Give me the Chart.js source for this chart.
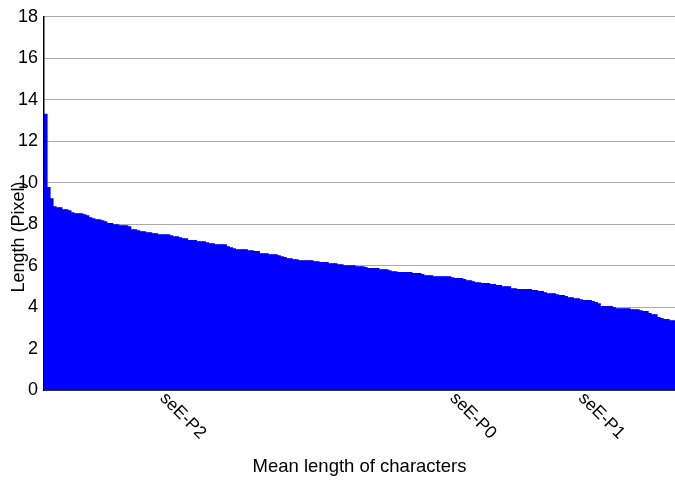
<!DOCTYPE html>
<html>
<head>
<meta charset="utf-8">
<script src="https://cdn.jsdelivr.net/npm/chart.js@4/dist/chart.umd.min.js"></script>
<style>
  html, body { margin: 0; padding: 0; background: #fff; }
  #wrap { width: 675px; height: 480px; position: relative; }
</style>
</head>
<body>
<div id="wrap"><canvas id="c"></canvas></div>
<script>
// ---- data ----
const lengths = [
  13.3, 9.76, 9.22, 8.83, 8.79, 8.79, 8.69, 8.69, 8.64, 8.55,
  8.50, 8.50, 8.50, 8.45, 8.40, 8.30, 8.26, 8.21, 8.21, 8.16,
  8.11, 8.02, 8.02, 7.97, 7.97, 7.92, 7.92, 7.92, 7.87, 7.73,
  7.73, 7.68, 7.63, 7.63, 7.58, 7.58, 7.53, 7.53, 7.48, 7.48,
  7.48, 7.48, 7.44, 7.39, 7.39, 7.34, 7.29, 7.29, 7.20, 7.20,
  7.20, 7.15, 7.15, 7.15, 7.10, 7.05, 7.05, 7.00, 7.00, 7.00,
  7.00, 6.91, 6.86, 6.81, 6.76, 6.76, 6.76, 6.76, 6.71, 6.71,
  6.67, 6.67, 6.57, 6.57, 6.57, 6.52, 6.52, 6.52, 6.47, 6.42,
  6.38, 6.33, 6.33, 6.28, 6.28, 6.23, 6.23, 6.23, 6.23, 6.23,
  6.18, 6.18, 6.14, 6.14, 6.14, 6.09, 6.09, 6.09, 6.04, 6.04,
  5.99, 5.99, 5.99, 5.99, 5.94, 5.94, 5.94, 5.90, 5.85, 5.85,
  5.85, 5.85, 5.80, 5.80, 5.80, 5.75, 5.70, 5.70, 5.66, 5.66,
  5.66, 5.66, 5.66, 5.61, 5.61, 5.61, 5.56, 5.51, 5.51, 5.51,
  5.46, 5.46, 5.46, 5.46, 5.46, 5.46, 5.41, 5.37, 5.37, 5.37,
  5.32, 5.27, 5.27, 5.22, 5.17, 5.17, 5.13, 5.13, 5.13, 5.08,
  5.08, 5.03, 5.03, 4.98, 4.98, 4.98, 4.88, 4.88, 4.84, 4.84,
  4.84, 4.84, 4.84, 4.79, 4.79, 4.74, 4.74, 4.69, 4.64, 4.64,
  4.64, 4.59, 4.55, 4.55, 4.50, 4.45, 4.45, 4.40, 4.40, 4.35,
  4.31, 4.31, 4.31, 4.26, 4.21, 4.16, 4.02, 4.02, 4.02, 4.02,
  3.97, 3.92, 3.92, 3.92, 3.92, 3.92, 3.87, 3.87, 3.87, 3.82,
  3.78, 3.78, 3.68, 3.63, 3.63, 3.49, 3.44, 3.39, 3.39, 3.34,
  3.34
];
const tickIndices = [38, 135, 178];
const tickLabels = ['seE-P2', 'seE-P0', 'seE-P1'];
const yTicks = [0, 2, 4, 6, 8, 10, 12, 14, 16, 18];
const xTitle = 'Mean length of characters';
const yTitle = 'Length (Pixel)';

// categories: one per bar, named where the reference shows a tick label
const categories = lengths.map((v, i) => {
  const k = tickIndices.indexOf(i);
  return k >= 0 ? tickLabels[k] : 'c' + (i + 1);
});

const FONT = '"Liberation Sans", Arial, Helvetica, sans-serif';

const textPlugin = {
  id: 'textPlugin',
  afterDraw(chart) {
    const ctx = chart.ctx;
    const xs = chart.scales.x;
    const area = chart.chartArea;
    ctx.save();
    ctx.fillStyle = '#000';
    // rotated category labels (reading down-right)
    ctx.font = '17.5px ' + FONT;
    tickIndices.forEach((idx, k) => {
      const px = xs.getPixelForValue(idx);
      ctx.save();
      ctx.translate(px, area.bottom + 9);
      ctx.rotate(Math.PI / 4);
      ctx.textAlign = 'left';
      ctx.textBaseline = 'alphabetic';
      ctx.fillText(tickLabels[k], 0, 0);
      ctx.restore();
    });
    // x title
    ctx.font = '18.5px ' + FONT;
    ctx.textAlign = 'center';
    ctx.textBaseline = 'middle';
    ctx.fillText(xTitle, (area.left + area.right) / 2, 467);
    // y title
    ctx.font = '18px ' + FONT;
    ctx.save();
    ctx.translate(19, 237);
    ctx.rotate(-Math.PI / 2);
    ctx.textAlign = 'center';
    ctx.textBaseline = 'middle';
    ctx.fillText(yTitle, 0, 0);
    ctx.restore();
    ctx.restore();
  }
};

new Chart(document.getElementById('c'), {
  type: 'bar',
  data: {
    labels: categories,
    datasets: [{
      data: lengths,
      backgroundColor: '#0000FF',
      borderWidth: 0,
      inflateAmount: 0.6,
      barPercentage: 1.0,
      categoryPercentage: 1.0
    }]
  },
  options: {
    responsive: true,
    maintainAspectRatio: false,
    animation: false,
    devicePixelRatio: 1,
    layout: { padding: { top: 16, right: 0, left: 0, bottom: 0 } },
    plugins: { legend: { display: false }, tooltip: { enabled: false } },
    scales: {
      x: {
        ticks: { display: false },
        grid: { display: false, drawTicks: false },
        border: { display: true, color: '#333', width: 1 },
        afterFit(scale) { scale.height = 90; }
      },
      y: {
        min: 0,
        max: 18,
        afterBuildTicks(scale) { scale.ticks = yTicks.map(v => ({ value: v })); },
        ticks: {
          color: '#000',
          font: { family: FONT, size: 18 },
          padding: 6
        },
        grid: {
          color: '#555',
          lineWidth: 1,
          drawTicks: false,
          tickLength: 0
        },
        border: { display: true, color: '#000', width: 1.5, dash: [1, 1] },
        afterFit(scale) { scale.width = 44; }
      }
    }
  },
  plugins: [textPlugin]
});
</script>
</body>
</html>
